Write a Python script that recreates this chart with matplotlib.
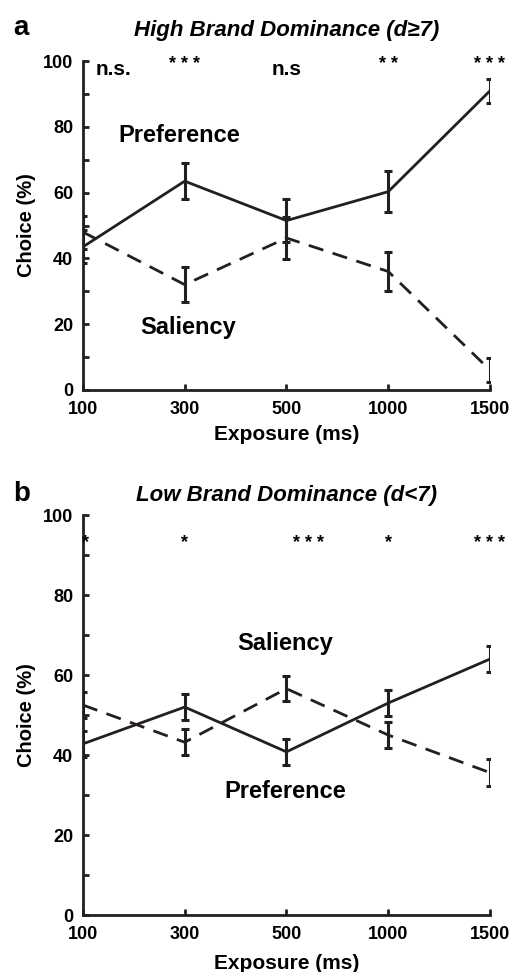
import numpy as np
import matplotlib
matplotlib.use("Agg")
import matplotlib.pyplot as plt

plt.rcParams["font.family"] = ["Liberation Sans", "DejaVu Sans"]
plt.rcParams["font.weight"] = "bold"

exposure = ["100", "300", "500", "1000", "1500"]

# panel a: high brand dominance
pref_a = [43.5, 63.5, 51.5, 60.3, 91.0]
pref_a_err = [5.0, 5.5, 6.5, 6.3, 3.7]
sal_a = [48.0, 32.0, 46.2, 36.0, 6.0]
sal_a_err = [5.0, 5.3, 6.5, 6.0, 3.7]
sig_a = ["n.s.", "* * *", "n.s", "* *", "* * *"]

# panel b: low brand dominance
pref_b = [42.8, 52.0, 40.8, 53.0, 64.0]
pref_b_err = [3.2, 3.3, 3.2, 3.3, 3.3]
sal_b = [52.5, 43.2, 56.6, 45.0, 35.6]
sal_b_err = [3.2, 3.2, 3.2, 3.3, 3.3]
sig_b = ["*", "*", "* * *", "*", "* * *"]

INK = "#231f20"


def draw_panel(ax, pref, pref_err, sal, sal_err, title, title_pad, xpad):
    x = np.arange(len(exposure))
    kw = dict(color=INK, lw=2.0, elinewidth=2.2, capsize=3, capthick=2.2)
    ax.errorbar(x, pref, yerr=pref_err, ls="-", **kw)
    ax.errorbar(x, sal, yerr=sal_err, ls=(0, (5.5, 3.5)), **kw)
    ax.set_xlim(0, len(exposure) - 1)
    ax.set_ylim(0, 100)
    ax.set_xticks(x)
    ax.set_xticklabels(exposure)
    ax.set_yticks([0, 20, 40, 60, 80, 100])
    ax.set_yticks([10, 30, 50, 70, 90], minor=True)
    ax.tick_params(which="both", direction="in", length=4, width=2,
                   labelsize=13, color=INK)
    ax.tick_params(axis="x", pad=8)
    ax.tick_params(axis="y", pad=7)
    for lab in ax.get_xticklabels() + ax.get_yticklabels():
        lab.set_fontweight("bold")
    for s in ["top", "right"]:
        ax.spines[s].set_visible(False)
    for s in ["left", "bottom"]:
        ax.spines[s].set_linewidth(2)
        ax.spines[s].set_color(INK)
    ax.set_xlabel("Exposure (ms)", fontsize=15, fontweight="bold",
                  labelpad=xpad)
    ax.set_ylabel("Choice (%)", fontsize=14.5, fontweight="bold", labelpad=5)
    ax.set_title(title, fontsize=16, fontweight="bold", style="italic",
                 pad=title_pad)


fig = plt.figure(figsize=(5.12, 9.72), dpi=100)
ax_a = fig.add_axes([0.162, 0.599, 0.795, 0.338])
ax_b = fig.add_axes([0.162, 0.0586, 0.795, 0.4115])

draw_panel(ax_a, pref_a, pref_a_err, sal_a, sal_a_err,
           "High Brand Dominance (d\u22657)", 18, 5)
draw_panel(ax_b, pref_b, pref_b_err, sal_b, sal_b_err,
           "Low Brand Dominance (d<7)", 10, 8)

ax_a.text(-0.172, 1.08, "a", transform=ax_a.transAxes, fontsize=20,
          fontweight="bold", va="baseline")
ax_b.text(-0.172, 1.035, "b", transform=ax_b.transAxes, fontsize=20,
          fontweight="bold", va="baseline")

# significance markers
sig_a_x = [0.3, 1, 2, 3, 4]
for xi, s in zip(sig_a_x, sig_a):
    if "n" in s:
        ax_a.text(xi, 97.5, s, ha="center", va="center", fontsize=15,
                  fontweight="bold")
    else:
        ax_a.text(xi, 99.0, s, ha="center", va="center", fontsize=13,
                  fontweight="bold")
sig_b_x = [0.03, 1, 2.22, 3, 4]
for xi, s in zip(sig_b_x, sig_b):
    ax_b.text(xi, 93, s, ha="center", va="center", fontsize=13,
              fontweight="bold")

ax_a.text(0.95, 77.5, "Preference", ha="center", va="center", fontsize=17,
          fontweight="bold")
ax_a.text(1.03, 19, "Saliency", ha="center", va="center", fontsize=17,
          fontweight="bold")
ax_b.text(1.99, 68, "Saliency", ha="center", va="center", fontsize=17,
          fontweight="bold")
ax_b.text(1.99, 31, "Preference", ha="center", va="center", fontsize=17,
          fontweight="bold")

fig.savefig("out.png", dpi=100)
